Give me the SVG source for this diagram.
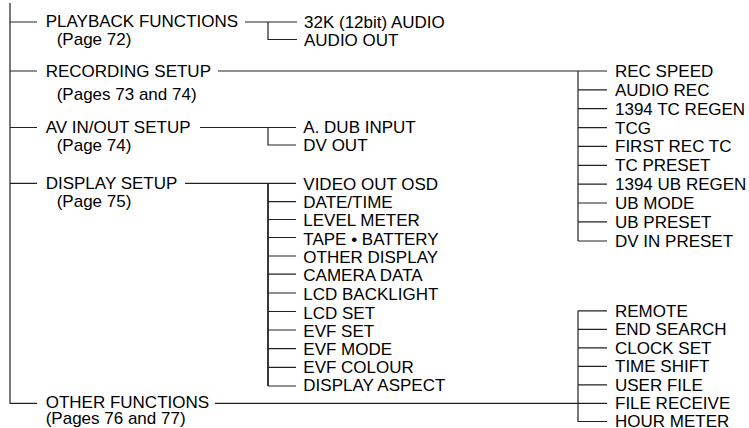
<svg xmlns="http://www.w3.org/2000/svg" width="749" height="428" viewBox="0 0 749 428">
<style>
.t{font-family:"Liberation Sans",Arial,Helvetica,sans-serif;font-size:17px;fill:#000}
.l{stroke:#222;stroke-width:1.2;fill:none}
.b{stroke:#222;stroke-width:1.8;fill:none}
</style>
<rect width="749" height="428" fill="#fff"/>
<g id="connectors">
<path class="l" d="M10 3V403.3H37M10 22H37M10 71H37M10 127.5H37M10 183.3H37"/>
<path class="l" d="M245 22H297M268 22V39.5H297"/>
<path class="l" d="M218 71H607M578 71V241"/>
<path class="l" d="M578 89.9H607M578 108.7H607M578 127.6H607M578 146.4H607M578 165.3H607M578 184.1H607M578 203H607M578 221.8H607M578 241H607"/>
<path class="l" d="M200 127.5H296M268 127.5V145H296"/>
<path class="l" d="M185 183.3H296"/>
<path class="b" d="M268 183.3V386"/>
<path class="l" d="M268 201.7H296M268 219.5H296M268 237.5H296M268 256H296M268 274.2H296M268 293H296M268 311.5H296M268 330H296M268 348.6H296M268 367.3H296M268 386H296"/>
<path class="l" d="M215 403.3H607M578 310.8V421.5H607M578 310.8H607M578 329.3H607M578 347.8H607M578 366.3H607M578 384.8H607"/>
</g>
<g id="playback"><text class="t" x="45.7" y="27.3">PLAYBACK FUNCTIONS</text><text class="t" x="56.7" y="45">(Page 72)</text></g>
<g id="playback-items"><text class="t" x="304" y="27.5">32K (12bit) AUDIO</text><text class="t" x="304" y="45.5">AUDIO OUT</text></g>
<g id="recording"><text class="t" x="45.7" y="76.7">RECORDING SETUP</text><text class="t" x="56.7" y="99.5">(Pages 73 and 74)</text></g>
<g id="recording-items">
<text class="t" x="615" y="77">REC SPEED</text>
<text class="t" x="615" y="95.9">AUDIO REC</text>
<text class="t" x="615" y="114.7">1394 TC REGEN</text>
<text class="t" x="615" y="133.6">TCG</text>
<text class="t" x="615" y="152.4">FIRST REC TC</text>
<text class="t" x="615" y="171.3">TC PRESET</text>
<text class="t" x="615" y="190.1">1394 UB REGEN</text>
<text class="t" x="615" y="209">UB MODE</text>
<text class="t" x="615" y="227.8">UB PRESET</text>
<text class="t" x="615" y="247">DV IN PRESET</text>
</g>
<g id="avinout"><text class="t" x="45.7" y="132.5">AV IN/OUT SETUP</text><text class="t" x="56.7" y="150.8">(Page 74)</text></g>
<g id="avinout-items"><text class="t" x="303.3" y="132.5">A. DUB INPUT</text><text class="t" x="303.3" y="150.8">DV OUT</text></g>
<g id="display"><text class="t" x="45.7" y="188.5">DISPLAY SETUP</text><text class="t" x="56.7" y="207.3">(Page 75)</text></g>
<g id="display-items">
<text class="t" x="303.3" y="190">VIDEO OUT OSD</text>
<text class="t" x="303.3" y="208.2">DATE/TIME</text>
<text class="t" x="303.3" y="226.3">LEVEL METER</text>
<text class="t" x="303.3" y="244.5">TAPE • BATTERY</text>
<text class="t" x="303.3" y="263">OTHER DISPLAY</text>
<text class="t" x="303.3" y="281.2">CAMERA DATA</text>
<text class="t" x="303.3" y="299.8">LCD BACKLIGHT</text>
<text class="t" x="303.3" y="319">LCD SET</text>
<text class="t" x="303.3" y="336.6">EVF SET</text>
<text class="t" x="303.3" y="355.3">EVF MODE</text>
<text class="t" x="303.3" y="372.5">EVF COLOUR</text>
<text class="t" x="303.3" y="391">DISPLAY ASPECT</text>
</g>
<g id="other"><text class="t" x="45.7" y="408.3">OTHER FUNCTIONS</text><text class="t" x="45.7" y="424">(Pages 76 and 77)</text></g>
<g id="other-items">
<text class="t" x="615" y="316.8">REMOTE</text>
<text class="t" x="615" y="335.3">END SEARCH</text>
<text class="t" x="615" y="353.8">CLOCK SET</text>
<text class="t" x="615" y="372.3">TIME SHIFT</text>
<text class="t" x="615" y="390.8">USER FILE</text>
<text class="t" x="615" y="409.3">FILE RECEIVE</text>
<text class="t" x="615" y="426.6">HOUR METER</text>
</g>
</svg>
